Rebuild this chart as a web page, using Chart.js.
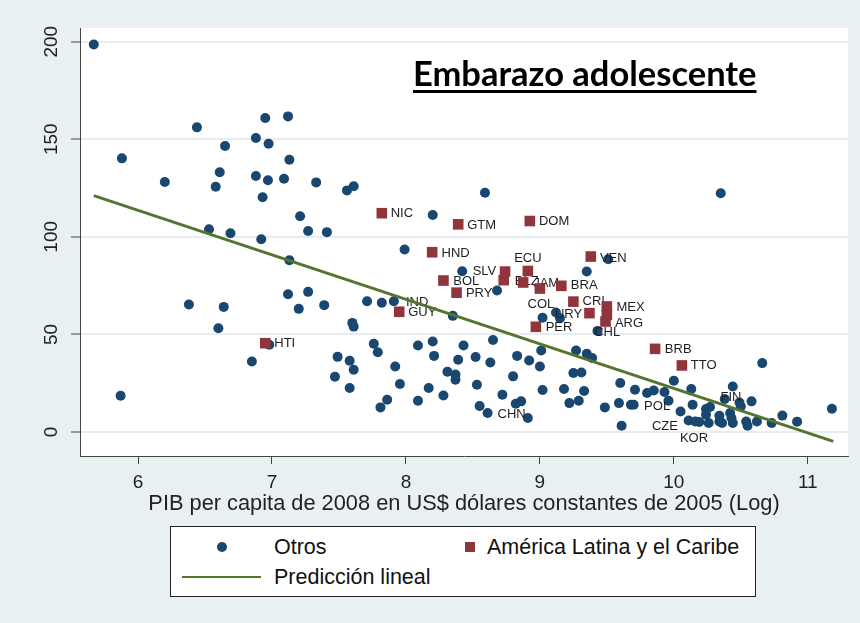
<!DOCTYPE html>
<html>
<head>
<meta charset="utf-8">
<title>Embarazo adolescente</title>
<script src="https://cdn.jsdelivr.net/npm/chart.js@4.4.1/dist/chart.umd.min.js"></script>
<style>
  body { margin: 0; background: #e9f0f2; }
  #wrap { position: relative; width: 860px; height: 623px; overflow: hidden; }
  #title {
    position: absolute; left: 413px; top: 56px;
    font: bold 34.5px Lato, "Open Sans", sans-serif; line-height: 1;
    color: #000; white-space: nowrap;
    text-decoration: underline; text-decoration-thickness: 3px; text-underline-offset: 4px;
  }
  #legend {
    position: absolute; left: 170px; top: 526px; width: 584px; height: 69px;
    border: 1px solid #222; background: #fff;
    font: 21.5px "Liberation Sans", Arial, sans-serif; color: #111;
  }
  #legend span { position: absolute; line-height: 22px; white-space: nowrap; }
  #legend .dot { left: 46px; top: 15px; width: 10px; height: 10px; border-radius: 50%; background: #1a476f; }
  #legend .sq { left: 294px; top: 15px; width: 10px; height: 10px; background: #90353b; }
  #legend .ln { left: 11px; top: 49px; width: 79px; height: 2px; background: #55752f; }
</style>
</head>
<body>
<div id="wrap">
  <canvas id="chart" width="860" height="623"></canvas>
  <div id="title">Embarazo adolescente</div>
  <div id="legend">
    <span class="dot"></span><span style="left:103px; top:9px">Otros</span>
    <span class="sq"></span><span style="left:316px; top:9px">América Latina y el Caribe</span>
    <span class="ln"></span><span style="left:103px; top:39px">Predicción lineal</span>
  </div>
</div>
<script>
// log GDP per capita (x) and adolescent fertility (y), "Otros"
const otrosX = [5.67, 5.88, 5.87, 6.20, 6.44, 6.58, 6.61, 6.65, 6.53, 6.69, 6.88, 6.95, 6.975, 6.88, 6.97,
  6.93, 6.92, 7.12, 7.13, 7.09, 7.33, 7.21, 7.27, 7.41, 7.56, 7.61, 7.13, 6.38, 6.64, 6.60,
  6.85, 6.98, 7.12, 7.27, 7.20, 7.39, 7.60, 7.61, 7.71, 7.82, 7.91, 7.49, 7.58, 7.61, 7.47,
  7.58, 7.76, 7.79, 7.92, 7.955, 7.86, 7.81, 7.99, 8.20, 8.42, 8.68, 8.35, 8.09, 8.20, 8.21,
  8.09, 8.17, 8.28, 8.31, 8.37, 8.37, 8.39, 8.43, 8.52, 8.63, 8.65, 8.53, 8.72, 8.80, 8.83,
  8.92, 8.55, 8.61, 8.82, 8.86, 8.91, 8.59, 9.01, 9.00, 9.02, 9.02, 9.12, 9.15, 9.18, 9.22,
  9.29, 9.33, 9.25, 9.31, 9.27, 9.35, 9.39, 9.35, 9.51, 9.43, 9.485, 9.60, 9.59, 9.68, 9.70,
  9.61, 9.71, 9.80, 9.85, 9.93, 9.96, 10.00, 10.13, 10.05, 10.14, 10.11, 10.16, 10.19, 10.26, 10.24,
  10.27, 10.24, 10.34, 10.34, 10.36, 10.38, 10.42, 10.43, 10.44, 10.44, 10.49, 10.50, 10.54, 10.55, 10.58,
  10.62, 10.66, 10.73, 10.81, 10.92, 11.18, 10.35];
const otrosY = [198.5, 140.2, 18.6, 128.1, 156.1, 125.7, 133.1, 146.5, 103.9, 101.8, 150.6, 160.9, 147.7, 131.2, 129.0,
  120.3, 98.8, 161.7, 139.5, 129.8, 127.9, 110.5, 103.0, 102.4, 123.8, 125.9, 88.0, 65.3, 64.1, 53.2,
  36.1, 44.7, 70.6, 71.8, 63.1, 65.0, 55.9, 54.0, 67.0, 66.2, 67.0, 38.5, 36.5, 31.9, 28.3,
  22.5, 45.2, 40.9, 33.6, 24.6, 16.5, 12.6, 93.5, 111.2, 82.4, 72.5, 59.5, 44.3, 46.4, 39.0,
  16.0, 22.5, 18.7, 30.9, 29.5, 26.8, 37.0, 44.3, 38.4, 35.6, 47.1, 24.2, 19.1, 28.5, 39.0,
  36.6, 13.3, 9.7, 14.5, 15.7, 7.2, 122.6, 41.8, 33.6, 21.5, 58.5, 61.2, 58.3, 22.0, 14.8,
  16.0, 21.0, 30.2, 30.5, 41.8, 40.1, 37.9, 82.2, 88.5, 51.8, 12.6, 25.1, 14.8, 14.0, 14.0,
  3.2, 21.6, 20.0, 21.3, 20.5, 16.0, 26.3, 22.0, 10.5, 14.0, 5.9, 5.4, 5.1, 4.6, 11.8,
  12.8, 8.9, 8.3, 5.4, 4.6, 16.9, 9.7, 7.2, 4.6, 23.3, 15.1, 13.1, 5.4, 3.2, 15.7,
  5.4, 35.3, 4.6, 8.4, 5.3, 11.9, 122.3];

// América Latina y el Caribe
const lacCodes = ['NIC', 'GTM', 'DOM', 'HND', 'ECU', 'SLV', 'BLZ', 'JAM', '', 'BOL', 'PRY', 'BRA',
  'VEN', 'CRI', 'URY', 'MEX', '', 'ARG', 'PER', 'GUY', 'BRB', 'TTO', 'HTI'];
const lacX = [7.82, 8.39, 8.925, 8.196, 8.91, 8.74, 8.73, 8.875, 9.00, 8.28, 8.378, 9.16,
  9.38, 9.25, 9.37, 9.50, 9.50, 9.49, 8.97, 7.95, 9.86, 10.06, 6.95];
const lacY = [112.1, 106.4, 108.1, 92.1, 82.5, 82.2, 77.8, 76.6, 73.5, 77.6, 71.4, 74.9,
  89.9, 66.8, 60.9, 64.3, 60.0, 56.6, 53.9, 61.6, 42.6, 34.1, 45.5];

// linear fit, read at both ends
const fitX = [5.67, 11.19];
const fitY = [121.1, -4.8];

const xTicks = [6, 7, 8, 9, 10, 11];
const yTicks = [0, 50, 100, 150, 200];
const xTitle = 'PIB per capita de 2008 en US$ dólares constantes de 2005 (Log)';

// country labels (left edge of text, vertical middle)
const labelText = ['NIC', 'GTM', 'DOM', 'HND', 'ECU', 'SLV', 'BLZ', 'JAM', 'BOL', 'PRY', 'BRA', 'VEN',
  'CRI', 'URY', 'COL', 'MEX', 'ARG', 'PER', 'CHL', 'IND', 'GUY', 'HTI', 'BRB', 'TTO', 'CHN', 'POL',
  'FIN', 'CZE', 'KOR'];
const labelX = [7.886, 8.457, 8.993, 8.266, 8.808, 8.498, 8.813, 8.95, 8.353, 8.448, 9.231, 9.448,
  9.318, 9.112, 8.908, 9.572, 9.56, 9.043, 9.405, 8.0, 8.017, 7.017, 9.933, 10.127, 8.684, 9.778,
  10.348, 9.836, 10.045];
const labelY = [112.1, 106.1, 107.8, 91.6, 89.0, 82.2, 77.1, 76.3, 77.4, 71.1, 74.9, 89.0,
  66.7, 60.4, 65.5, 64.0, 55.8, 53.5, 51.0, 66.5, 61.2, 45.5, 42.5, 34.1, 9.2, 13.1,
  17.9, 2.6, -3.1];

const FONT = '"Liberation Sans", Arial, sans-serif';

const extras = {
  id: 'extras',
  beforeDraw(chart) {
    const { ctx, chartArea: a } = chart;
    ctx.save();
    ctx.fillStyle = '#ffffff';
    ctx.fillRect(a.left, a.top, a.right - a.left, a.bottom - a.top);
    ctx.restore();
  },
  afterDatasetDraw(chart, args) {
    if (args.index !== 0) return;
    const { ctx, scales: { x, y } } = chart;
    ctx.save();
    ctx.font = '13px ' + FONT;
    ctx.fillStyle = '#1e1e1e';
    ctx.textBaseline = 'middle';
    labelText.forEach((t, i) => {
      ctx.fillText(t, x.getPixelForValue(labelX[i]), y.getPixelForValue(labelY[i]));
    });
    ctx.restore();
  },
  afterDraw(chart) {
    const { ctx, chartArea: a, scales: { y } } = chart;
    ctx.save();
    ctx.fillStyle = '#222';
    ctx.font = '19px ' + FONT;
    ctx.textAlign = 'center';
    ctx.textBaseline = 'middle';
    yTicks.forEach(v => {
      ctx.save();
      ctx.translate(52, y.getPixelForValue(v));
      ctx.rotate(-Math.PI / 2);
      ctx.fillText(String(v), 0, 0);
      ctx.restore();
    });
    // x axis title, fitted to the reference width
    ctx.font = '21px ' + FONT;
    const w = ctx.measureText(xTitle).width;
    ctx.font = (21 * 630 / w).toFixed(1) + 'px ' + FONT;
    ctx.fillText(xTitle, (a.left + a.right) / 2, 504);
    ctx.restore();
  }
};

new Chart(document.getElementById('chart'), {
  type: 'scatter',
  data: {
    datasets: [
      {
        label: 'Otros',
        data: otrosX.map((v, i) => ({ x: v, y: otrosY[i] })),
        backgroundColor: '#1a476f',
        pointRadius: 5,
        pointBorderWidth: 0,
        order: 3
      },
      {
        label: 'América Latina y el Caribe',
        data: lacX.map((v, i) => ({ x: v, y: lacY[i], code: lacCodes[i] })),
        backgroundColor: '#90353b',
        pointStyle: 'rect',
        pointRadius: 7.5,
        pointBorderWidth: 0,
        order: 2
      },
      {
        type: 'line',
        label: 'Predicción lineal',
        data: fitX.map((v, i) => ({ x: v, y: fitY[i] })),
        borderColor: '#55752f',
        borderWidth: 3,
        pointRadius: 0,
        fill: false,
        order: 1
      }
    ]
  },
  options: {
    responsive: false,
    animation: false,
    layout: { padding: { left: 0, right: 12, top: 28, bottom: 0 } },
    plugins: { legend: { display: false }, tooltip: { enabled: false } },
    scales: {
      x: {
        type: 'linear',
        min: 5.567,
        max: 11.3,
        afterBuildTicks: s => { s.ticks = xTicks.map(v => ({ value: v })); },
        afterFit: s => { s.height = 167; },
        grid: { drawOnChartArea: false, drawTicks: true, tickLength: 8, tickColor: '#444' },
        border: { color: '#444', width: 1 },
        ticks: { color: '#222', font: { size: 19, family: FONT }, padding: 7, maxRotation: 0 }
      },
      y: {
        type: 'linear',
        min: -12.3,
        max: 207,
        afterBuildTicks: s => { s.ticks = yTicks.map(v => ({ value: v })); },
        afterFit: s => { s.width = 80; },
        grid: { color: '#e5edf0', lineWidth: 2, drawTicks: true, tickLength: 9, tickColor: '#444', tickWidth: 1 },
        border: { color: '#444', width: 1 },
        ticks: { display: false }
      }
    }
  },
  plugins: [extras]
});
</script>
</body>
</html>
